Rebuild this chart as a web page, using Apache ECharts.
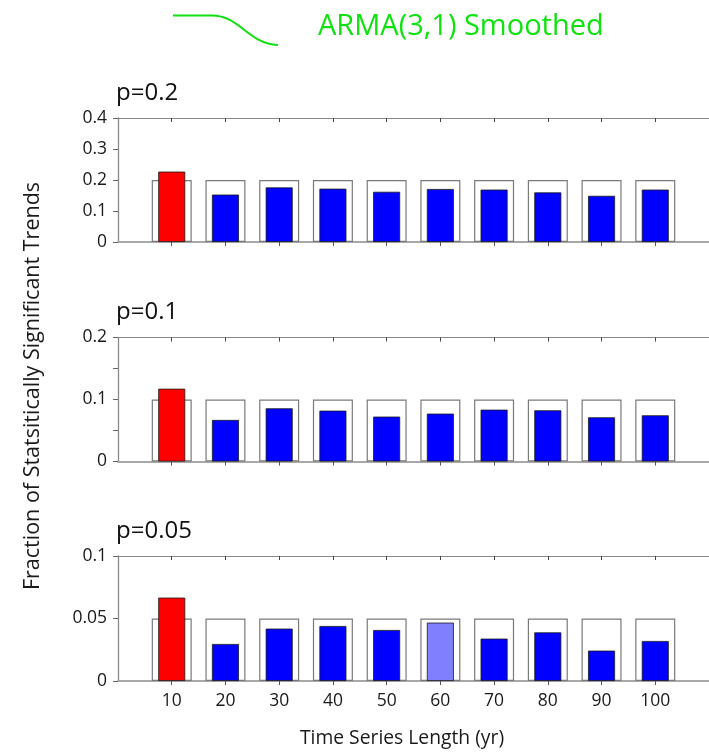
<!DOCTYPE html>
<html>
<head>
<meta charset="utf-8">
<script src="https://cdn.jsdelivr.net/npm/echarts@6/dist/echarts.min.js"></script>
<style>
  html, body { margin: 0; padding: 0; background: #fff; }
  #chart { width: 709px; height: 753px; }
</style>
</head>
<body>
<div id="chart"></div>
<script>
// Time series lengths (years) on the shared x axis
const years = [10, 20, 30, 40, 50, 60, 70, 80, 90, 100];

// Nominal significance level of each panel (also the height of the open reference boxes)
const panelTitles = ['p=0.2', 'p=0.1', 'p=0.05'];
const pLevels = [0.2, 0.1, 0.05];

// Fraction of statistically significant trends, one array per panel
const fracP020 = [0.227, 0.153, 0.176, 0.172, 0.162, 0.171, 0.169, 0.160, 0.149, 0.169];
const fracP010 = [0.1174, 0.067, 0.0858, 0.082, 0.0724, 0.0772, 0.0836, 0.0826, 0.0713, 0.0745];
const fracP005 = [0.0667, 0.0296, 0.0419, 0.044, 0.0408, 0.0467, 0.0339, 0.0389, 0.0243, 0.032];

// Y-axis ranges, tick spacing and labelled ticks per panel
const yMaxes = [0.4, 0.2, 0.1];
const yTickSteps = [0.1, 0.05, 0.05];
const yLabelsP020 = [0, 0.1, 0.2, 0.3, 0.4];
const yLabelsP010 = [0, 0.1, 0.2];
const yLabelsP005 = [0, 0.05, 0.1];

const legendText = 'ARMA(3,1) Smoothed';
const yAxisTitle = 'Fraction of Statsitically Significant Trends';
const xAxisTitle = 'Time Series Length (yr)';

const fractions = [fracP020, fracP010, fracP005];
const yLabelSets = [yLabelsP020, yLabelsP010, yLabelsP005];

// Styling
const FONT = 'Open Sans';
const TEXT = '#1a1a1a';
const GREEN = '#11e011';
const RED = '#ff0000';
const BLUE = '#0000ff';
const PALE_BLUE = '#8080ff';
const paleBar = { panel: 2, index: 5 };

const grids = [
  { left: 118, top: 118, width: 595, height: 124 },
  { left: 118, top: 337.5, width: 595, height: 124 },
  { left: 118, top: 556, width: 595, height: 125 }
];

const xAxes = [];
const yAxes = [];
const series = [];
const panelTitleTexts = [];

grids.forEach((g, k) => {
  // bottom axis (baseline with year labels on the last panel)
  xAxes.push({
    gridIndex: k, type: 'value', position: 'bottom', min: 0, max: 110,
    axisLine: { show: true, lineStyle: { color: '#a8a8a8', width: 2 } },
    axisTick: { show: true, inside: false, length: 4, customValues: years,
                lineStyle: { color: '#555', width: 1 } },
    axisLabel: { show: k === 2, customValues: years, margin: 11,
                 fontFamily: FONT, fontSize: 17.5, color: TEXT },
    splitLine: { show: false }
  });
  // top frame with inward ticks
  xAxes.push({
    gridIndex: k, type: 'value', position: 'top', min: 0, max: 110,
    axisLine: { show: true, onZero: false, lineStyle: { color: '#8a8a8a', width: 1.2 } },
    axisTick: { show: true, inside: true, length: 4, customValues: years,
                lineStyle: { color: '#444', width: 1 } },
    axisLabel: { show: false },
    splitLine: { show: false }
  });
  yAxes.push({
    gridIndex: k, type: 'value', min: 0, max: yMaxes[k], interval: yTickSteps[k],
    axisLine: { show: true, lineStyle: { color: '#8a8a8a', width: 1.3 } },
    axisTick: { show: true, inside: false, length: 5, lineStyle: { color: '#666', width: 1 } },
    axisLabel: {
      customValues: yLabelSets[k], margin: 11,
      fontFamily: FONT, fontSize: 17.5, color: TEXT,
      formatter: v => String(+(+v).toFixed(3))
    },
    splitLine: { show: false }
  });

  // open reference boxes at the nominal level p
  series.push({
    type: 'bar', xAxisIndex: 2 * k + 1, yAxisIndex: k, z: 2,
    barWidth: 40, silent: true,
    itemStyle: { color: '#ffffff', borderColor: '#7a7a7a', borderWidth: 1.2 },
    data: years.map(y => [y, pLevels[k]])
  });
  // observed fraction of significant trends
  series.push({
    type: 'bar', xAxisIndex: 2 * k, yAxisIndex: k, z: 3,
    barWidth: 27, silent: true,
    itemStyle: { borderColor: '#1a1a1a', borderWidth: 0.8 },
    data: fractions[k].map((v, i) => ({
      value: [years[i], v],
      itemStyle: {
        color: i === 0 ? RED : (k === paleBar.panel && i === paleBar.index ? PALE_BLUE : BLUE)
      }
    }))
  });

  panelTitleTexts.push({
    type: 'text', silent: true, x: 116, y: g.top - 25,
    style: { text: panelTitles[k], fontFamily: FONT, fontSize: 24, fill: '#111',
             align: 'left', verticalAlign: 'middle' }
  });
});

const chart = echarts.init(document.getElementById('chart'), null, { renderer: 'canvas' });
chart.setOption({
  animation: false,
  backgroundColor: '#ffffff',
  grid: grids,
  xAxis: xAxes,
  yAxis: yAxes,
  series: series,
  graphic: panelTitleTexts.concat([
    {
      type: 'line', silent: true,
      shape: { x1: 173, y1: 15.5, x2: 212, y2: 15.5 },
      style: { stroke: GREEN, lineWidth: 2 }
    },
    {
      type: 'bezierCurve', silent: true,
      shape: { x1: 212, y1: 15.5, cpx1: 240, cpy1: 15.5, cpx2: 248, cpy2: 44, x2: 278, y2: 45 },
      style: { fill: null, stroke: GREEN, lineWidth: 2 }
    },
    {
      type: 'text', silent: true, x: 318, y: 27,
      style: { text: legendText, fontFamily: FONT, fontSize: 29, fill: GREEN,
               align: 'left', verticalAlign: 'middle' }
    },
    {
      type: 'text', silent: true, x: 33, y: 386, rotation: Math.PI / 2,
      style: { text: yAxisTitle, fontFamily: FONT, fontSize: 21.5, fill: TEXT,
               align: 'center', verticalAlign: 'middle' }
    },
    {
      type: 'text', silent: true, x: 402, y: 739,
      style: { text: xAxisTitle, fontFamily: FONT, fontSize: 19.3, fill: TEXT,
               align: 'center', verticalAlign: 'middle' }
    }
  ])
});
</script>
</body>
</html>
